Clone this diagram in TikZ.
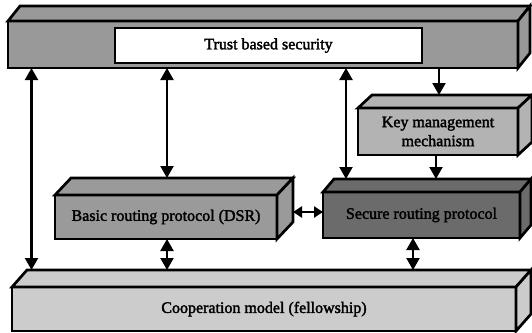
\documentclass[tikz,border=0pt]{standalone}
\usepackage{fontspec}
\setmainfont{Liberation Serif}
\newfontfamily\labelfont{Liberation Serif}[FakeBold=2]
\usetikzlibrary{arrows.meta,calc}
\definecolor{barg}{HTML}{999999}
\definecolor{keyg}{HTML}{B3B3B3}
\definecolor{basg}{HTML}{9A9A9A}
\definecolor{secg}{HTML}{6B6B6B}
\definecolor{coog}{HTML}{CCCCCC}
\newcommand\cuboid[9]{%
  \node[front, fill=#2, minimum width={#5-#3}, minimum height={#6-#4}] (#1) at ({(#3+#5)/2},{(#4+#6)/2}) {#9};
  \coordinate (#1-top) at ($(#1.north west)+(#7,-#8)$);
  \coordinate (#1-back) at ($(#1.north east)+(#7,-#8)$);
  \draw[face, fill=#2] (#1.north west) -- (#1-top) -- (#1-back) -- (#1.north east) -- cycle;
  \draw[face, fill=#2] (#1.north east) -- (#1-back) -- ($(#1.south east)+(#7,-#8)$) -- (#1.south east) -- cycle;
}
\begin{document}
\begin{tikzpicture}[x=1pt,y=-1pt,
  face/.style={draw=black, line width=2.7pt, line join=miter},
  front/.style={face, inner sep=0pt, outer sep=0pt, font=\labelfont\fontsize{16}{19}\selectfont, align=center},
  link/.style={line width=2.2pt, {Triangle[width=13pt,length=12pt]}-{Triangle[width=13pt,length=12pt]}},
  onelink/.style={line width=2.2pt, -{Triangle[width=13pt,length=12pt]}},
  smalllink/.style={line width=2.2pt, {Triangle[width=11pt,length=9pt]}-{Triangle[width=11pt,length=9pt]}}]
\fill[white] (0,0) rectangle (532,332);
\useasboundingbox (0,0) rectangle (532,332);

\cuboid{top}{barg}{8}{21}{518}{68}{12}{15}{}
\node[front, fill=white, minimum width=307, minimum height=35] (trust) at (268.5,45.5) {Trust based security};
\cuboid{key}{keyg}{358}{108}{518}{155}{14}{13}{Key management\\mechanism}
\cuboid{basic}{basg}{55}{195}{277}{239}{16}{17}{Basic routing protocol (DSR)}
\cuboid{secure}{secg}{323}{192}{520}{238}{11}{13}{Secure routing protocol}
\cuboid{coop}{coog}{12}{287}{516}{331}{15}{17}{Cooperation model (fellowship)}

\coordinate (xa) at (31.5,0);
\coordinate (xb) at (167,0);
\coordinate (xc) at (346,0);
\coordinate (xd) at (439,0);
\coordinate (xe) at (436,0);
\coordinate (xf) at (413,0);
\coordinate (hy) at (0,212);

\draw[link] (xa |- top.south) -- (xa |- coop-top);
\draw[link] (xb |- top.south) -- (xb |- basic-top);
\draw[link] (xc |- top.south) -- (xc |- secure-top);
\draw[onelink] (xd |- top.south) -- (xd |- key-top);
\draw[onelink] (xe |- key.south) -- (xe |- secure-top);
\draw[link] (xb |- basic.south) -- (xb |- coop-top);
\draw[link] (xf |- secure.south) -- (xf |- coop-top);
\draw[smalllink] (basic-back |- hy) -- (secure.west |- hy);
\end{tikzpicture}
\end{document}
